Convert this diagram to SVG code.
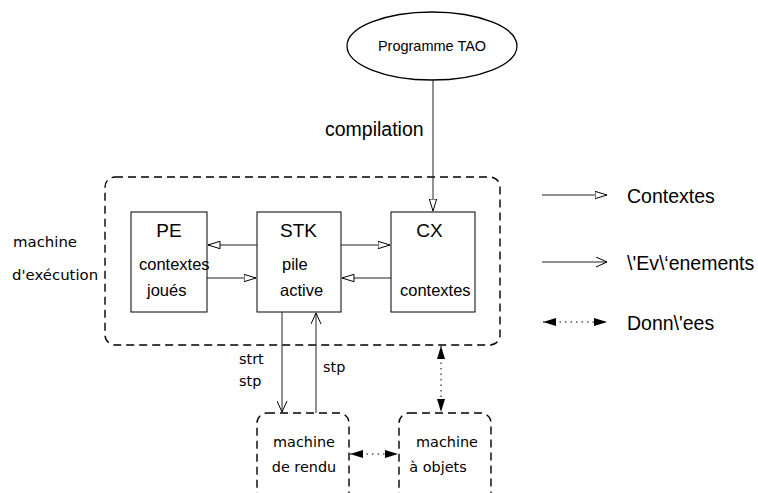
<svg xmlns="http://www.w3.org/2000/svg" width="758" height="493" viewBox="0 0 758 493">
<style>
.sans{font-family:"Liberation Sans",Arial,sans-serif;fill:#000}
.dv{font-family:"DejaVu Sans",sans-serif;fill:#000;font-size:14.4px}
.lbl{font-size:14.9px}
.box{fill:#fff;stroke:#000;stroke-width:1}
.dash{fill:none;stroke:#000;stroke-width:1.4;stroke-dasharray:8 5}
.ln{fill:none;stroke:#222;stroke-width:1}
.dot{fill:none;stroke:#000;stroke-width:1;stroke-dasharray:1.5 4}
</style>
<defs>
<marker id="tri" viewBox="0 0 13 9" refX="12.5" refY="4.5" markerWidth="13" markerHeight="9" markerUnits="userSpaceOnUse" orient="auto-start-reverse">
<path d="M0.5,0.8 L12.5,4.5 L0.5,8.2 Z" fill="#fff" stroke="#000" stroke-width="1"/>
</marker>
<marker id="vee" viewBox="0 0 12 11" refX="11.5" refY="5.5" markerWidth="12" markerHeight="11" markerUnits="userSpaceOnUse" orient="auto-start-reverse">
<path d="M0.5,0.5 L11.5,5.5 L0.5,10.5" fill="none" stroke="#000" stroke-width="1"/>
</marker>
<marker id="fill" viewBox="0 0 13 9" refX="13" refY="4.5" markerWidth="13" markerHeight="9" markerUnits="userSpaceOnUse" orient="auto-start-reverse">
<path d="M0,0.5 L13,4.5 L0,8.5 Z" fill="#000"/>
</marker>
</defs>

<g id="programme">
<ellipse cx="432" cy="46" rx="85" ry="34" fill="#fff" stroke="#000" stroke-width="1.3"/>
<text class="sans" x="432" y="51" font-size="14.5" text-anchor="middle">Programme TAO</text>
</g>

<g id="machine-execution">
<rect class="dash" x="105" y="177" width="395" height="168" rx="10"/>
<text class="dv lbl" x="13" y="247">machine</text>
<text class="dv lbl" x="12" y="280">d'exécution</text>
</g>

<g id="pe">
<rect class="box" x="131" y="212" width="76" height="100"/>
<text class="sans" x="169" y="237" font-size="19" text-anchor="middle">PE</text>
<text class="sans" x="139" y="270" font-size="16.5">contextes</text>
<text class="sans" x="147" y="296" font-size="16.5">joués</text>
</g>

<g id="stk">
<rect class="box" x="257" y="212" width="84" height="100"/>
<text class="sans" x="298.5" y="237" font-size="19" text-anchor="middle">STK</text>
<text class="sans" x="282" y="270" font-size="16.5">pile</text>
<text class="sans" x="280" y="296" font-size="16.5">active</text>
</g>

<g id="cx">
<rect class="box" x="391" y="212" width="84" height="100"/>
<text class="sans" x="429.5" y="237" font-size="19" text-anchor="middle">CX</text>
<text class="sans" x="400" y="296" font-size="16.5">contextes</text>
</g>

<g id="machine-rendu">
<rect class="dash" x="257" y="413" width="92" height="100" rx="10"/>
<text class="dv" x="304" y="447" text-anchor="middle">machine</text>
<text class="dv" x="304" y="472" text-anchor="middle">de rendu</text>
</g>

<g id="machine-objets">
<rect class="dash" x="399" y="413" width="92" height="100" rx="10"/>
<text class="dv" x="447" y="447" text-anchor="middle">machine</text>
<text class="dv" x="438" y="472" text-anchor="middle">à objets</text>
</g>

<g id="connectors">
<line class="ln" x1="433" y1="80" x2="433" y2="211" marker-end="url(#tri)"/>
<text class="sans" x="325" y="136" font-size="19.5">compilation</text>
<line class="ln" x1="257" y1="245" x2="208" y2="245" marker-end="url(#tri)"/>
<line class="ln" x1="207" y1="278" x2="256" y2="278" marker-end="url(#tri)"/>
<line class="ln" x1="341" y1="245" x2="390" y2="245" marker-end="url(#tri)"/>
<line class="ln" x1="391" y1="278" x2="342" y2="278" marker-end="url(#tri)"/>
<line class="ln" x1="282" y1="312" x2="282" y2="412" marker-end="url(#vee)" stroke="#555"/>
<line class="ln" x1="316" y1="413" x2="316" y2="313" marker-end="url(#vee)"/>
<text class="dv" x="239" y="364">strt</text>
<text class="dv" x="239" y="386">stp</text>
<text class="dv" x="323" y="372">stp</text>
<line class="dot" x1="441" y1="346" x2="441" y2="412" marker-start="url(#fill)" marker-end="url(#fill)"/>
<line class="dot" x1="350" y1="454" x2="398" y2="454" marker-start="url(#fill)" marker-end="url(#fill)"/>
</g>

<g id="legend">
<line class="ln" x1="542" y1="195" x2="607" y2="195" marker-end="url(#tri)"/>
<text class="sans" x="627" y="203" font-size="19.5">Contextes</text>
<line class="ln" x1="542" y1="262" x2="607" y2="262" marker-end="url(#vee)"/>
<text class="sans" x="627" y="270" font-size="19.5">\'Ev\‘enements</text>
<line class="dot" x1="543" y1="322" x2="607" y2="322" marker-start="url(#fill)" marker-end="url(#fill)"/>
<text class="sans" x="627" y="330" font-size="19.5">Donn\'ees</text>
</g>
</svg>
